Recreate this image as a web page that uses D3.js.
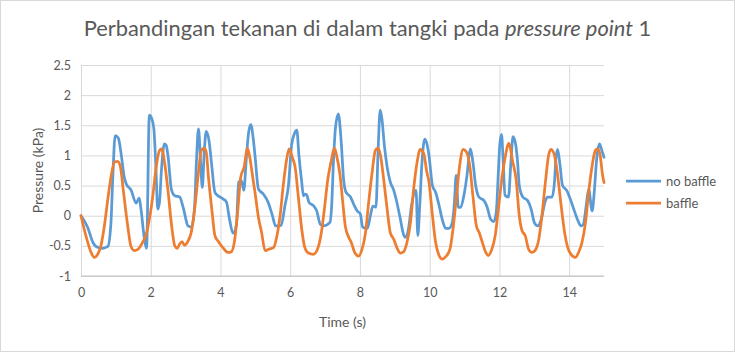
<!DOCTYPE html>
<html>
<head>
<meta charset="utf-8">
<script src="https://cdn.jsdelivr.net/npm/d3@7"></script>
<style>
  body { margin: 0; background: #fff; }
  svg text { font-family: Lato, "Open Sans", sans-serif; fill: #595959; }
</style>
</head>
<body>
<div id="chart"></div>
<script>
// Pressure comparison, pressure point 1

// no baffle series (time in s, pressure in kPa)
const timeNoBaffle = [0, 0.19, 0.34, 0.43, 0.62, 0.77, 0.86, 0.91, 0.98, 1.07, 1.15, 1.24, 1.29, 1.44, 1.58, 1.67, 1.72, 1.82, 1.88, 1.96,
  2.03, 2.09, 2.15, 2.2, 2.25, 2.31, 2.39, 2.44, 2.5, 2.59, 2.69, 2.83, 2.93, 3.07, 3.17, 3.26, 3.31, 3.37, 3.43, 3.48,
  3.53, 3.59, 3.67, 3.74, 3.84, 3.93, 4.07, 4.17, 4.26, 4.36, 4.46, 4.52, 4.6, 4.67, 4.74, 4.81, 4.87, 4.94, 4.99, 5.09,
  5.23, 5.37, 5.49, 5.58, 5.74, 5.85, 5.95, 6.04, 6.12, 6.19, 6.25, 6.33, 6.38, 6.42, 6.47, 6.54, 6.66, 6.76, 6.86, 6.95,
  7.14, 7.19, 7.24, 7.3, 7.38, 7.46, 7.53, 7.6, 7.73, 7.82, 7.92, 8.01, 8.08, 8.21, 8.3, 8.37, 8.46, 8.52, 8.58, 8.63,
  8.7, 8.78, 8.87, 8.97, 9.06, 9.16, 9.25, 9.3, 9.4, 9.48, 9.61, 9.66, 9.72, 9.78, 9.86, 9.93, 9.98, 10.08, 10.17, 10.27,
  10.36, 10.46, 10.55, 10.65, 10.71, 10.76, 10.82, 10.89, 10.98, 11.08, 11.13, 11.17, 11.24, 11.32, 11.41, 11.56, 11.65, 11.75, 11.84, 11.91,
  11.97, 12.01, 12.06, 12.11, 12.16, 12.26, 12.33, 12.39, 12.47, 12.52, 12.57, 12.67, 12.81, 12.91, 13.0, 13.1, 13.19, 13.32, 13.39, 13.51,
  13.58, 13.62, 13.67, 13.74, 13.81, 13.93, 14.03, 14.15, 14.25, 14.34, 14.41, 14.49, 14.56, 14.66, 14.72, 14.79, 14.87, 14.94, 15.0];
const pressureNoBaffle = [0, -0.19, -0.44, -0.51, -0.54, -0.51, -0.11, 0.61, 1.33, 1.29, 1.03, 0.64, 0.54, 0.42, 0.21, 0.29, 0.11, -0.39, -0.54, 1.67,
  1.61, 1.44, 0.78, 0.11, 0.22, 0.78, 1.19, 1.17, 0.97, 0.44, 0.33, 0.31, 0.14, -0.17, -0.19, 0.17, 0.89, 1.44, 0.89, 0.47,
  1.0, 1.4, 1.25, 0.89, 0.39, 0.33, 0.28, 0.23, -0.06, -0.29, -0.14, 0.56, 0.58, 0.42, 0.94, 1.39, 1.51, 1.28, 1.0, 0.44,
  0.36, 0.22, 0, -0.17, -0.16, 0.17, 0.5, 1.17, 1.36, 1.42, 1.0, 0.56, 0.33, 0.36, 0.35, 0.22, 0.17, 0.08, -0.14, -0.17,
  -0.11, 0.17, 0.89, 1.47, 1.69, 1.25, 0.61, 0.39, 0.31, 0.19, 0.08, 0.03, -0.19, -0.21, 0, 0.16, 0.14, 1.06, 1.75, 1.61,
  1.17, 0.81, 0.56, 0.42, 0.22, -0.06, -0.31, -0.36, -0.19, 0.17, 0.42, -0.33, 0.22, 0.89, 1.27, 1.17, 1.0, 0.5, 0.39, 0.17,
  -0.06, -0.21, -0.21, -0.11, 0.22, 0.67, 0.14, 0.14, 0.33, 0.72, 1.0, 1.11, 0.89, 0.5, 0.31, 0.25, 0.14, -0.06, -0.1, 0.06,
  0.72, 1.17, 1.35, 0.89, 0.34, 0.31, 0.89, 1.31, 1.17, 0.9, 0.5, 0.31, 0.25, 0.11, -0.11, -0.17, -0.08, 0.25, 0.31, 0.31,
  0.56, 0.94, 1.1, 0.83, 0.5, 0.42, 0.28, 0.08, -0.08, -0.17, -0.14, 0.17, 0.44, 0.08, 0.39, 0.94, 1.19, 1.08, 0.97];

// baffle series
const timeBaffle = [0, 0.14, 0.29, 0.38, 0.48, 0.57, 0.67, 0.77, 0.86, 0.96, 1.05, 1.13, 1.22, 1.34, 1.43, 1.53, 1.63, 1.77, 1.87, 1.96,
  2.06, 2.15, 2.25, 2.31, 2.41, 2.5, 2.6, 2.69, 2.76, 2.83, 2.9, 2.97, 3.06, 3.16, 3.26, 3.36, 3.45, 3.53, 3.59, 3.66,
  3.76, 3.84, 3.93, 4.07, 4.22, 4.31, 4.41, 4.5, 4.58, 4.68, 4.77, 4.84, 4.94, 4.99, 5.09, 5.18, 5.28, 5.37, 5.52, 5.61,
  5.71, 5.8, 5.9, 5.97, 6.06, 6.14, 6.23, 6.33, 6.42, 6.52, 6.66, 6.78, 6.88, 6.98, 7.08, 7.17, 7.27, 7.33, 7.43, 7.49,
  7.58, 7.68, 7.75, 7.85, 7.96, 8.06, 8.16, 8.25, 8.35, 8.44, 8.51, 8.59, 8.68, 8.78, 8.87, 8.97, 9.06, 9.16, 9.25, 9.35,
  9.45, 9.54, 9.64, 9.73, 9.83, 9.92, 9.98, 10.08, 10.17, 10.27, 10.36, 10.46, 10.58, 10.67, 10.77, 10.86, 10.96, 11.05, 11.15, 11.24,
  11.34, 11.42, 11.51, 11.61, 11.68, 11.78, 11.88, 11.97, 12.07, 12.16, 12.27, 12.38, 12.48, 12.57, 12.65, 12.74, 12.84, 12.93, 13.03, 13.13,
  13.22, 13.32, 13.41, 13.48, 13.58, 13.67, 13.77, 13.87, 13.96, 14.08, 14.18, 14.27, 14.37, 14.47, 14.56, 14.66, 14.75, 14.82, 14.89, 14.96, 15.0];
const pressureBaffle = [0, -0.33, -0.61, -0.69, -0.64, -0.5, -0.17, 0.28, 0.64, 0.89, 0.9, 0.81, 0.39, -0.17, -0.5, -0.58, -0.56, -0.44, -0.31, -0.06,
  0.33, 0.78, 1.08, 1.11, 0.83, 0.39, -0.17, -0.5, -0.54, -0.47, -0.43, -0.49, -0.43, -0.28, 0.11, 0.67, 1.08, 1.12, 1.06, 0.61,
  0.06, -0.33, -0.42, -0.53, -0.61, -0.6, -0.39, 0.11, 0.64, 0.81, 1.12, 0.97, 0.58, 0.39, -0.03, -0.28, -0.58, -0.56, -0.53, -0.36,
  0, 0.5, 0.94, 1.11, 0.97, 0.81, 0.33, -0.22, -0.53, -0.62, -0.64, -0.56, -0.33, 0.11, 0.61, 0.89, 1.12, 1.0, 0.67, 0.33,
  -0.17, -0.36, -0.44, -0.61, -0.67, -0.56, -0.28, 0.22, 0.72, 1.08, 1.12, 1.0, 0.61, 0.11, -0.28, -0.39, -0.53, -0.62, -0.6, -0.44,
  -0.11, 0.44, 0.89, 1.1, 1.03, 0.72, 0.56, 0, -0.44, -0.66, -0.72, -0.68, -0.56, -0.22, 0.33, 0.83, 1.1, 1.06, 0.83, 0.33,
  -0.17, -0.28, -0.44, -0.61, -0.66, -0.56, -0.33, 0.11, 0.61, 0.95, 1.2, 0.9, 0.6, 0, -0.25, -0.33, -0.56, -0.61, -0.57, -0.39,
  0, 0.56, 1.0, 1.1, 1.0, 0.67, 0.17, -0.28, -0.53, -0.66, -0.69, -0.61, -0.44, -0.11, 0.39, 0.83, 1.08, 1.11, 1.0, 0.67, 0.55];

const xTicks = [0, 2, 4, 6, 8, 10, 12, 14];
const yTicks = [-1, -0.5, 0, 0.5, 1, 1.5, 2, 2.5];
const seriesNames = ["no baffle", "baffle"];
const seriesColors = ["#5B9BD5", "#ED7D31"];

const W = 735, H = 352;
const margin = { top: 65, right: 131, bottom: 76, left: 81 };
const width = W - margin.left - margin.right;
const height = H - margin.top - margin.bottom;

const svg = d3.select("#chart").append("svg")
    .attr("width", W)
    .attr("height", H);

// chart border
svg.append("rect")
    .attr("x", 0.5).attr("y", 0.5)
    .attr("width", W - 1).attr("height", H - 1)
    .attr("fill", "#fff")
    .attr("stroke", "#D9D9D9");

const g = svg.append("g")
    .attr("transform", `translate(${margin.left},${margin.top})`);

const x = d3.scaleLinear().domain([0, 15]).range([0, width]);
const y = d3.scaleLinear().domain([-1, 2.5]).range([height, 0]);

// horizontal gridlines + y labels
g.append("g")
    .call(d3.axisLeft(y).tickValues(yTicks).tickSize(-width).tickPadding(10).tickFormat(d => d))
    .call(a => a.select(".domain").remove())
    .call(a => a.selectAll("line").attr("stroke", "#D9D9D9"))
    .call(a => a.selectAll("text").attr("font-size", "12.5px").attr("fill", "#595959"));

// vertical gridlines + x labels
g.append("g")
    .attr("transform", `translate(0,${height})`)
    .call(d3.axisBottom(x).tickValues(xTicks).tickSize(-height).tickPadding(12).tickFormat(d => d))
    .call(a => a.select(".domain").remove())
    .call(a => a.selectAll("line").attr("stroke", "#D9D9D9"))
    .call(a => a.selectAll("text").attr("font-size", "12.5px").attr("fill", "#595959"));

// bottom axis line
g.append("line")
    .attr("x1", 0).attr("x2", width)
    .attr("y1", y(-1)).attr("y2", y(-1))
    .attr("stroke", "#BFBFBF");

// lines
const line = d3.line()
    .x(d => x(d[0]))
    .y(d => y(d[1]))
    .curve(d3.curveMonotoneX);

const series = [
    d3.zip(timeNoBaffle, pressureNoBaffle),
    d3.zip(timeBaffle, pressureBaffle)
];

// baffle drawn above no baffle, like the reference
[0, 1].forEach(i => {
    g.append("path")
        .datum(series[i])
        .attr("fill", "none")
        .attr("stroke", seriesColors[i])
        .attr("stroke-width", 2.75)
        .attr("stroke-linejoin", "round")
        .attr("stroke-linecap", "round")
        .attr("d", line);
});

// title
const title = svg.append("text")
    .attr("x", W / 2)
    .attr("y", 36)
    .attr("text-anchor", "middle")
    .attr("font-size", "20px");
title.append("tspan").text("Perbandingan tekanan di dalam tangki pada ");
title.append("tspan").attr("font-style", "italic").text("pressure point");
title.append("tspan").text(" 1");
// fit title width to reference (~568px)
const tw = title.node().getComputedTextLength();
title.attr("font-size", (20 * 568 / tw).toFixed(2) + "px");

// axis titles
svg.append("text")
    .attr("x", margin.left + width / 2)
    .attr("y", 327)
    .attr("text-anchor", "middle")
    .attr("font-size", "14px")
    .text("Time (s)");

svg.append("text")
    .attr("transform", `translate(43,${margin.top + height / 2}) rotate(-90)`)
    .attr("text-anchor", "middle")
    .attr("font-size", "14px")
    .text("Pressure (kPa)");

// legend
const legend = svg.append("g").attr("transform", "translate(626,181)");
seriesNames.forEach((name, i) => {
    const row = legend.append("g").attr("transform", `translate(0,${i * 22})`);
    row.append("line")
        .attr("x1", 0).attr("x2", 35)
        .attr("stroke", seriesColors[i])
        .attr("stroke-width", 2.75);
    row.append("text")
        .attr("x", 40)
        .attr("y", 4.5)
        .attr("font-size", "13px")
        .text(name);
});
</script>
</body>
</html>
